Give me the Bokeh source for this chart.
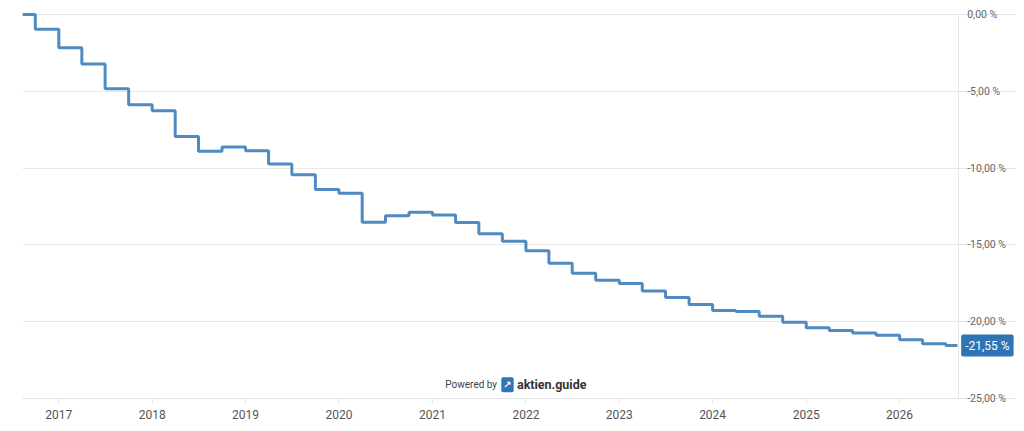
import pandas as pd
from bokeh.plotting import figure
from bokeh.models import (Range1d, FixedTicker, CustomJSTickFormatter, DatetimeTickFormatter,
                          Label, LinearAxis, Grid)
from bokeh.embed import file_html
from bokeh.resources import INLINE

start_date = "2016-08-12"
end_date = "2026-08-15"
step_dates = [
    "2016-10-01",
    "2017-01-01", "2017-04-01", "2017-07-01", "2017-10-01",
    "2018-01-01", "2018-04-01", "2018-07-01", "2018-10-01",
    "2019-01-01", "2019-04-01", "2019-07-01", "2019-10-01",
    "2020-01-01", "2020-04-01", "2020-07-01", "2020-10-01",
    "2021-01-01", "2021-04-01", "2021-07-01", "2021-10-01",
    "2022-01-01", "2022-04-01", "2022-07-01", "2022-10-01",
    "2023-01-01", "2023-04-01", "2023-07-01", "2023-10-01",
    "2024-01-01", "2024-04-01", "2024-07-01", "2024-10-01",
    "2025-01-01", "2025-04-01", "2025-07-01", "2025-10-01",
    "2026-01-01", "2026-04-01", "2026-07-01",
]
step_values = [
    -0.96,
    -2.17, -3.23, -4.83, -5.87,
    -6.27, -7.94, -8.90, -8.63,
    -8.87, -9.74, -10.43, -11.39,
    -11.63, -13.52, -13.10, -12.87,
    -13.06, -13.54, -14.28, -14.76,
    -15.38, -16.19, -16.84, -17.30,
    -17.52, -18.00, -18.42, -18.88,
    -19.27, -19.34, -19.64, -20.03,
    -20.40, -20.57, -20.73, -20.88,
    -21.18, -21.44, -21.55,
]
start_value = 0.0
year_ticks = [2017, 2018, 2019, 2020, 2021, 2022, 2023, 2024, 2025, 2026]
y_ticks = [0, -5, -10, -15, -20, -25]
y_min, y_max = -25, 0

xs = pd.to_datetime([start_date] + step_dates + [end_date])
ys = [start_value] + step_values + [step_values[-1]]

LINE = "#4f8bc1"
BOX = "#2f74b5"
FONT = "Roboto"

x_start = pd.Timestamp("2016-08-12")
axis_edge = pd.Timestamp("2026-08-18")      # where the value axis sits
x_end = pd.Timestamp("2027-04-03")          # extra room for the value labels
edge_ms = axis_edge.value / 1e6
start_ms = x_start.value / 1e6

p = figure(width=1024, height=431, x_axis_type="datetime", y_axis_location=None,
           output_backend="svg", toolbar_location=None,
           x_range=Range1d(x_start, x_end),
           y_range=Range1d(-26.953, 0.586),
           min_border_left=22, min_border_right=8, min_border_top=5, min_border_bottom=3)
p.outline_line_color = None
p.background_fill_color = "white"
p.xgrid.grid_line_color = None

ygrid = Grid(dimension=1, ticker=FixedTicker(ticks=y_ticks), grid_line_color="#e8e8e8",
             cross_bounds=(start_ms, edge_ms))
p.add_layout(ygrid)

p.step(xs, ys, mode="after", line_color=LINE, line_width=3)

# x axis (sits on the lowest value line)
p.xaxis.fixed_location = y_min
p.xaxis.ticker = FixedTicker(ticks=[pd.Timestamp(f"{y}-01-01").value / 1e6 for y in year_ticks])
p.xaxis.formatter = DatetimeTickFormatter(years="%Y", months="%Y", days="%Y", hours="%Y",
                                          minutes="%Y", seconds="%Y", milliseconds="%Y",
                                          microseconds="%Y", minsec="%Y", hourmin="%Y")
p.xaxis.bounds = (start_ms, edge_ms)
p.xaxis.axis_line_color = "#e3e3e3"
p.xaxis.major_tick_line_color = "#e3e3e3"
p.xaxis.major_tick_in = 0
p.xaxis.major_tick_out = 5
p.xaxis.minor_tick_line_color = None
p.xaxis.major_label_text_font = FONT
p.xaxis.major_label_text_font_size = "12px"
p.xaxis.major_label_text_color = "#555555"
p.xaxis.major_label_standoff = 6

# y axis (value axis placed at the end of the time range)
yaxis = LinearAxis(fixed_location=edge_ms, ticker=FixedTicker(ticks=y_ticks), bounds=(y_min, y_max),
                   formatter=CustomJSTickFormatter(code="return tick.toFixed(2).replace('.', ',') + ' %';"),
                   axis_line_color="#e8e8e8", major_tick_line_color=None, minor_tick_line_color=None,
                   major_tick_in=0, major_tick_out=0,
                   major_label_text_font=FONT, major_label_text_font_size="10.5px",
                   major_label_text_color="#666666", major_label_standoff=9)
p.add_layout(yaxis, "right")

# last value badge
last_label = f"{step_values[-1]:.2f}".replace(".", ",") + " %"
p.add_layout(Label(x=axis_edge, y=step_values[-1], x_offset=3, text=last_label,
                   text_baseline="middle", text_align="left",
                   text_color="white", text_font=FONT, text_font_size="12px",
                   background_fill_color=BOX, padding=4, border_radius=2))

# watermark
p.add_layout(Label(x=pd.Timestamp("2021-02-20"), y=-24.1, text="Powered by",
                   text_baseline="middle", text_align="left", text_color="#444444",
                   text_font=FONT, text_font_size="10px"))
p.add_layout(Label(x=pd.Timestamp("2021-10-21"), y=-24.1, text="↗",
                   text_baseline="middle", text_align="center", text_color="white",
                   text_font="DejaVu Sans", text_font_size="10px", text_font_style="bold",
                   background_fill_color=BOX, padding=2, border_radius=2))
p.add_layout(Label(x=pd.Timestamp("2021-11-27"), y=-24.1, text="aktien.guide",
                   text_baseline="middle", text_align="left", text_color="#333333",
                   text_font=FONT, text_font_size="12.5px", text_font_style="bold"))

open("out.html", "w").write(file_html(p, INLINE))
